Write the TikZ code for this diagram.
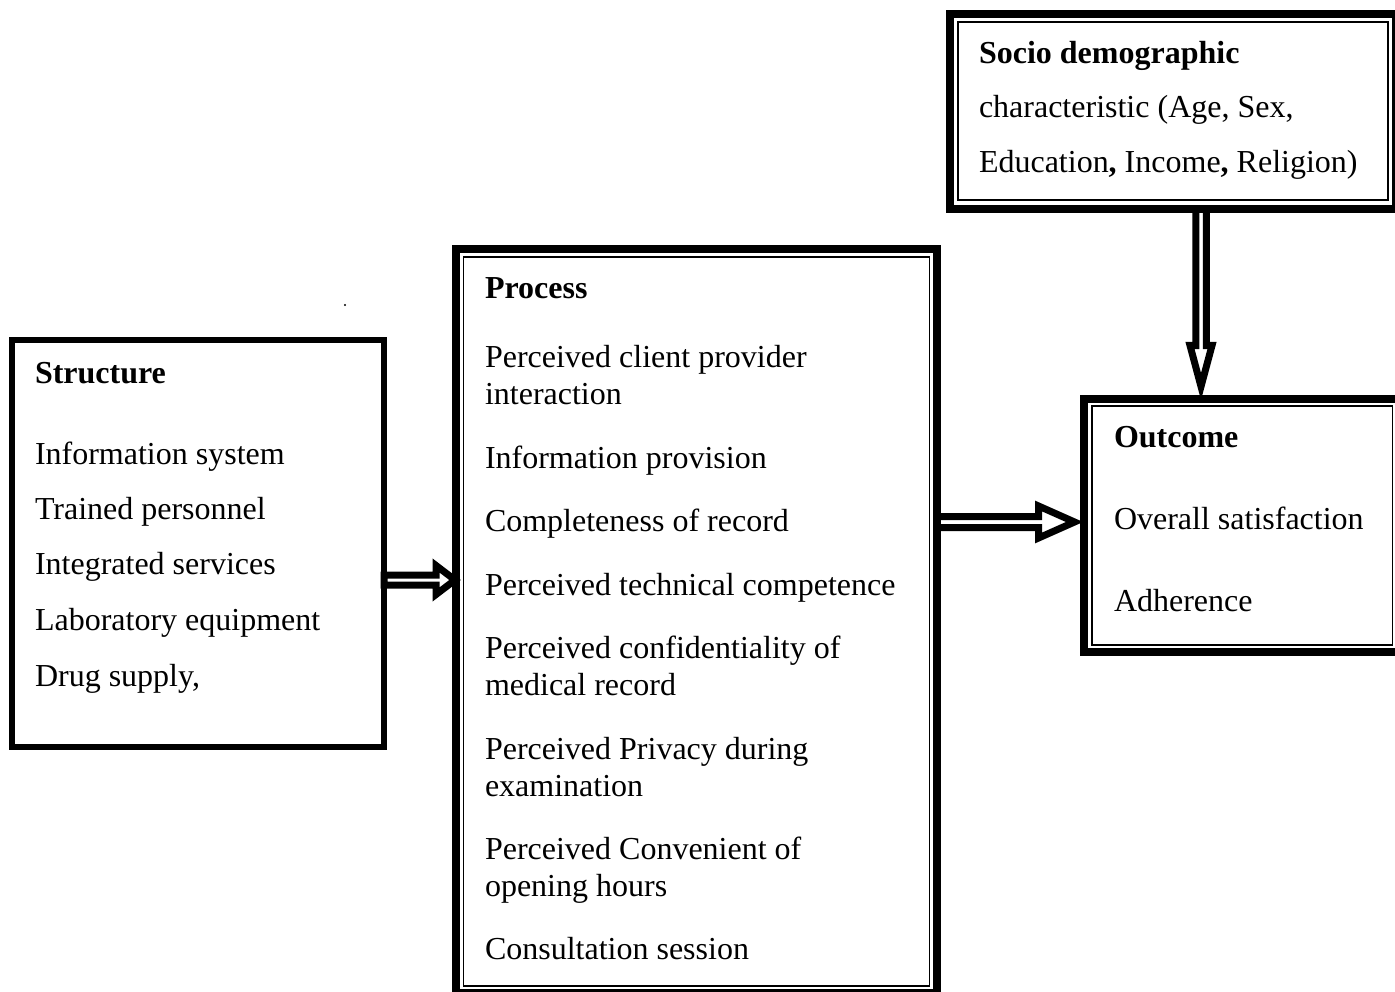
\documentclass[tikz,border=0pt]{standalone}
\usepackage{fontspec}
\setmainfont{Liberation Serif}
\usetikzlibrary{calc}
\begin{document}
\begin{tikzpicture}[x=1pt,y=-1pt,
  thickbox/.style={draw=black,line width=8pt,rectangle,inner sep=0pt,outer sep=0pt,anchor=north west},
  plainbox/.style={draw=black,line width=6pt,rectangle,inner sep=0pt,outer sep=0pt,anchor=north west},
  innerline/.style={draw=black,line width=1.5pt},
  txt/.style={anchor=base west,inner sep=0pt,outer sep=0pt,font=\fontsize{32}{37}\selectfont},
  hollow/.style={draw=black,line width=7pt,line join=miter,miter limit=20}
]
\useasboundingbox (0,0) rectangle (1395,992);
\clip (0,0) rectangle (1395,992);

% boxes
\node[plainbox,minimum width=372pt,minimum height=407pt] (s) at (12,340) {};
\node[thickbox,minimum width=481pt,minimum height=744pt] (p) at (456,249) {};
\node[thickbox,minimum width=446pt,minimum height=195pt] (d) at (950,14) {};
\node[thickbox,minimum width=317pt,minimum height=253pt] (o) at (1083.5,398.5) {};

\draw[innerline] ([shift={(7.5,8)}]p.north west) rectangle ([shift={(-7.5,-7)}]p.south east);
\draw[innerline] ([shift={(8,8)}]d.north west) rectangle ([shift={(-8,-9)}]d.south east);
\draw[innerline] ([shift={(8.5,7.5)}]o.north west) rectangle ([shift={(-8,-6.5)}]o.south east);

% stray dot
\fill (345,305) circle (1.2);

% arrows
\coordinate (a1s) at (s.east |- 0,580);
\coordinate (a1e) at ([xshift=-1pt]p.west |- 0,580);
\draw[hollow] let \p1=(a1s), \p2=(a1e) in
  (\x1,\y1+5) -- (\x2-19,\y1+5) -- (\x2-19,\y1+14.5) -- (\x2,\y1) -- (\x2-19,\y1-14.5) -- (\x2-19,\y1-5) -- (\x1,\y1-5) -- cycle;

\coordinate (a2s) at (p.east |- 0,522);
\coordinate (a2e) at ([xshift=-9pt]o.west |- 0,522);
\draw[hollow] let \p1=(a2s), \p2=(a2e) in
  (\x1,\y1+5.5) -- (\x2-36,\y1+5.5) -- (\x2-36,\y1+16) -- (\x2,\y1) -- (\x2-36,\y1-16) -- (\x2-36,\y1-5.5) -- (\x1,\y1-5.5) -- cycle;

\coordinate (a3s) at (d.south -| 1201,0);
\coordinate (a3e) at ([yshift=12pt]o.north -| 1201,0);
\draw[hollow] let \p1=(a3s), \p2=(a3e) in
  (\x1-5.25,\y1) -- (\x1-5.25,\y2+41) -- (\x1-11,\y2+41) -- (\x1,\y2) -- (\x1+11,\y2+41) -- (\x1+5.25,\y2+41) -- (\x1+5.25,\y1) -- cycle;

% texts: socio
\node[txt] (d1) at (979,64) {\textbf{Socio demographic}};
\node[txt] (d2) at (979,118) {characteristic (Age, Sex,};
\node[txt] (d3) at (979,173) {Education\textbf{,} Income\textbf{,} Religion)};

% structure
\node[txt] (s0) at (35,383) {\textbf{Structure}};
\node[txt] (s1) at (35,464) {Information system};
\node[txt] (s2) at (35,519) {Trained personnel};
\node[txt] (s3) at (35,574) {Integrated services};
\node[txt] (s4) at (35,630) {Laboratory equipment};
\node[txt] (s5) at (35,686) {Drug supply,};

% process
\node[txt] (p0) at (485,299) {\textbf{Process}};
\node[txt] (p1) at (485,367) {Perceived client provider};
\node[txt] (p1b) at (485,404) {interaction};
\node[txt] (p2) at (485,468) {Information provision};
\node[txt] (p3) at (485,531) {Completeness of record};
\node[txt] (p4) at (485,595) {Perceived technical competence};
\node[txt] (p5) at (485,658) {Perceived confidentiality of};
\node[txt] (p5b) at (485,695) {medical record};
\node[txt] (p6) at (485,759) {Perceived Privacy during};
\node[txt] (p6b) at (485,796) {examination};
\node[txt] (p7) at (485,859) {Perceived Convenient of};
\node[txt] (p7b) at (485,896) {opening hours};
\node[txt] (p8) at (485,959) {Consultation session};

% outcome
\node[txt] (o0) at (1114,447) {\textbf{Outcome}};
\node[txt] (o1) at (1114,529) {Overall satisfaction};
\node[txt] (o2) at (1114,611) {Adherence};
\end{tikzpicture}
\end{document}
